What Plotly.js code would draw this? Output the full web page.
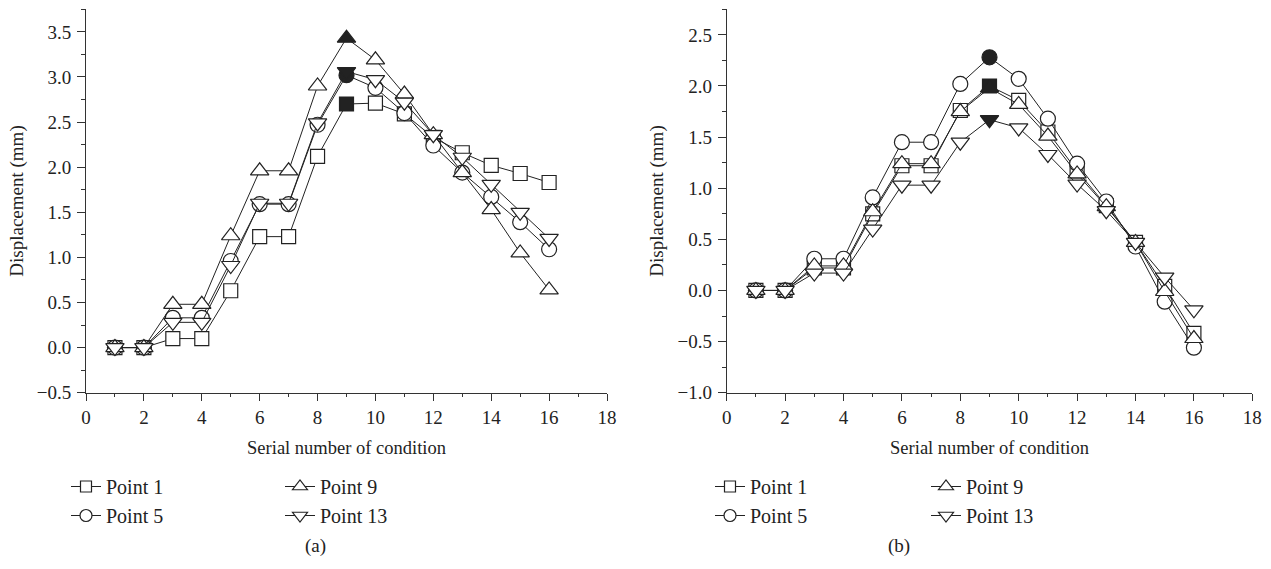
<!DOCTYPE html>
<html>
<head>
<meta charset="utf-8">
<script src="https://cdn.plot.ly/plotly-3.0.1.min.js"></script>
<style>html,body{margin:0;padding:0;background:#fff;}#chart{width:1271px;height:569px;}</style>
</head>
<body>
<div id="chart"></div>
<script>
// Serial number of condition
const conditions = [1, 2, 3, 4, 5, 6, 7, 8, 9, 10, 11, 12, 13, 14, 15, 16];
const seriesNames = ["Point 1", "Point 5", "Point 9", "Point 13"];
const peakIndex = 8; // condition 9 drawn with filled marker

// Panel (a) displacement (mm)
const a_point1  = [0, 0, 0.10, 0.10, 0.63, 1.23, 1.23, 2.12, 2.70, 2.71, 2.59, 2.33, 2.16, 2.02, 1.93, 1.83];
const a_point5  = [0, 0, 0.33, 0.33, 0.96, 1.59, 1.59, 2.47, 3.02, 2.88, 2.60, 2.24, 1.94, 1.67, 1.39, 1.09];
const a_point9  = [0, 0, 0.48, 0.48, 1.24, 1.96, 1.96, 2.90, 3.43, 3.19, 2.81, 2.36, 1.94, 1.53, 1.05, 0.64];
const a_point13 = [0, 0, 0.28, 0.28, 0.91, 1.60, 1.60, 2.49, 3.06, 2.97, 2.72, 2.36, 2.11, 1.81, 1.50, 1.21];

// Panel (b) displacement (mm)
const b_point1  = [0, 0, 0.22, 0.22, 0.75, 1.22, 1.22, 1.76, 2.00, 1.86, 1.55, 1.17, 0.83, 0.47, 0.04, -0.42];
const b_point5  = [0, 0, 0.31, 0.31, 0.91, 1.45, 1.45, 2.02, 2.28, 2.07, 1.68, 1.24, 0.87, 0.43, -0.11, -0.56];
const b_point9  = [0, 0, 0.24, 0.24, 0.77, 1.24, 1.24, 1.75, 1.98, 1.82, 1.51, 1.14, 0.82, 0.47, -0.01, -0.47];
const b_point13 = [0, 0, 0.17, 0.17, 0.60, 1.03, 1.03, 1.45, 1.67, 1.59, 1.33, 1.04, 0.78, 0.47, 0.13, -0.19];

const xTickVals = [0, 2, 4, 6, 8, 10, 12, 14, 16, 18];

const INK = '#222';
const FONT = 'Liberation Serif, Times New Roman, serif';
const symbols = ['square', 'circle', 'triangle-up', 'triangle-down'];
const sizes = [14, 15, 16, 16];
const legendSizes = [11, 12, 13, 13];

function fills(n) {
  const c = [];
  for (let i = 0; i < n; i++) c.push(i === peakIndex ? INK : '#fff');
  return c;
}

function makeTrace(name, ys, k, xa, ya) {
  return {
    type: 'scatter', mode: 'lines+markers', name: name, showlegend: false,
    x: conditions, y: ys, xaxis: xa, yaxis: ya,
    cliponaxis: false,
    line: {color: INK, width: 1},
    marker: {symbol: symbols[k], size: sizes[k], color: fills(ys.length),
             line: {color: INK, width: 1.2}}
  };
}
// legend-only entries (no data points), smaller symbols as in the key
function legendEntry(name, k, xa, ya, legendId, grp) {
  return {
    type: 'scatter', mode: 'lines+markers', name: name, showlegend: true,
    x: [null], y: [null], xaxis: xa, yaxis: ya, legend: legendId, legendgroup: grp,
    line: {color: INK, width: 1},
    marker: {symbol: symbols[k], size: legendSizes[k], color: '#fff', line: {color: INK, width: 1.2}}
  };
}

const aData = [a_point1, a_point5, a_point9, a_point13];
const bData = [b_point1, b_point5, b_point9, b_point13];
const legA = ['legend', 'legend', 'legend2', 'legend2'];
const legB = ['legend3', 'legend3', 'legend4', 'legend4'];

const traces = [];
aData.forEach((ys, k) => traces.push(makeTrace(seriesNames[k], ys, k, 'x', 'y')));
bData.forEach((ys, k) => traces.push(makeTrace(seriesNames[k], ys, k, 'x2', 'y2')));
seriesNames.forEach((n, k) => traces.push(legendEntry(n, k, 'x', 'y', legA[k], 'a' + k)));
seriesNames.forEach((n, k) => traces.push(legendEntry(n, k, 'x2', 'y2', legB[k], 'b' + k)));

const W = 1271, H = 569;
const px = v => v / W;
const py = v => 1 - v / H;

function xAxis(domain, anchor) {
  return {
    domain: domain, anchor: anchor, range: [0, 18], tickvals: xTickVals,
    showline: true, linecolor: '#333', linewidth: 1, showgrid: false, zeroline: false,
    ticks: 'outside', ticklen: 7, tickwidth: 1, tickcolor: '#333',
    minor: {dtick: 1, ticks: 'outside', ticklen: 3.5, tickwidth: 1, tickcolor: '#333', showgrid: false},
    tickfont: {family: FONT, size: 19, color: INK},
    title: {text: 'Serial number of condition', font: {family: FONT, size: 18.5, color: INK}, standoff: 14}
  };
}
function yAxis(domain, anchor, range, dtick) {
  return {
    domain: domain, anchor: anchor, range: range, dtick: dtick, tick0: 0, tickformat: '.1f',
    showline: true, linecolor: '#333', linewidth: 1, showgrid: false, zeroline: false,
    ticks: 'outside', ticklen: 8, tickwidth: 1, tickcolor: '#333',
    minor: {dtick: dtick / 2, ticks: 'outside', ticklen: 4, tickwidth: 1, tickcolor: '#333', showgrid: false},
    tickfont: {family: FONT, size: 19, color: INK}, ticklabelstandoff: 2,
    title: {text: 'Displacement (mm)', font: {family: FONT, size: 19, color: INK}, standoff: 8}
  };
}
function legendAt(x, y) {
  return {x: px(x), y: py(y), xanchor: 'left', yanchor: 'top', orientation: 'v',
          bgcolor: 'rgba(0,0,0,0)', borderwidth: 0, itemwidth: 30, tracegroupgap: 0,
          font: {family: FONT, size: 20, color: INK}, itemclick: false};
}

const yDom = [py(392.7), py(9.3)];
const layout = {
  width: W, height: H, margin: {l: 0, r: 0, t: 0, b: 0},
  paper_bgcolor: '#fff', plot_bgcolor: '#fff', showlegend: true,
  font: {family: FONT, color: INK},
  xaxis: xAxis([px(86), px(607)], 'y'),
  yaxis: yAxis(yDom, 'x', [-0.5, 3.75], 0.5),
  xaxis2: xAxis([px(726.7), px(1252.3)], 'y2'),
  yaxis2: yAxis(yDom, 'x2', [-1, 2.75], 0.5),
  legend: legendAt(66, 467),
  legend2: legendAt(280, 467),
  legend3: legendAt(710, 467),
  legend4: legendAt(926, 467),
  annotations: [
    {text: '(a)', x: px(315), y: py(546), xref: 'paper', yref: 'paper', showarrow: false,
     xanchor: 'center', yanchor: 'middle', font: {family: FONT, size: 19, color: INK}},
    {text: '(b)', x: px(899), y: py(546), xref: 'paper', yref: 'paper', showarrow: false,
     xanchor: 'center', yanchor: 'middle', font: {family: FONT, size: 19, color: INK}}
  ]
};

Plotly.newPlot('chart', traces, layout, {displayModeBar: false, staticPlot: true});
</script>
</body>
</html>
